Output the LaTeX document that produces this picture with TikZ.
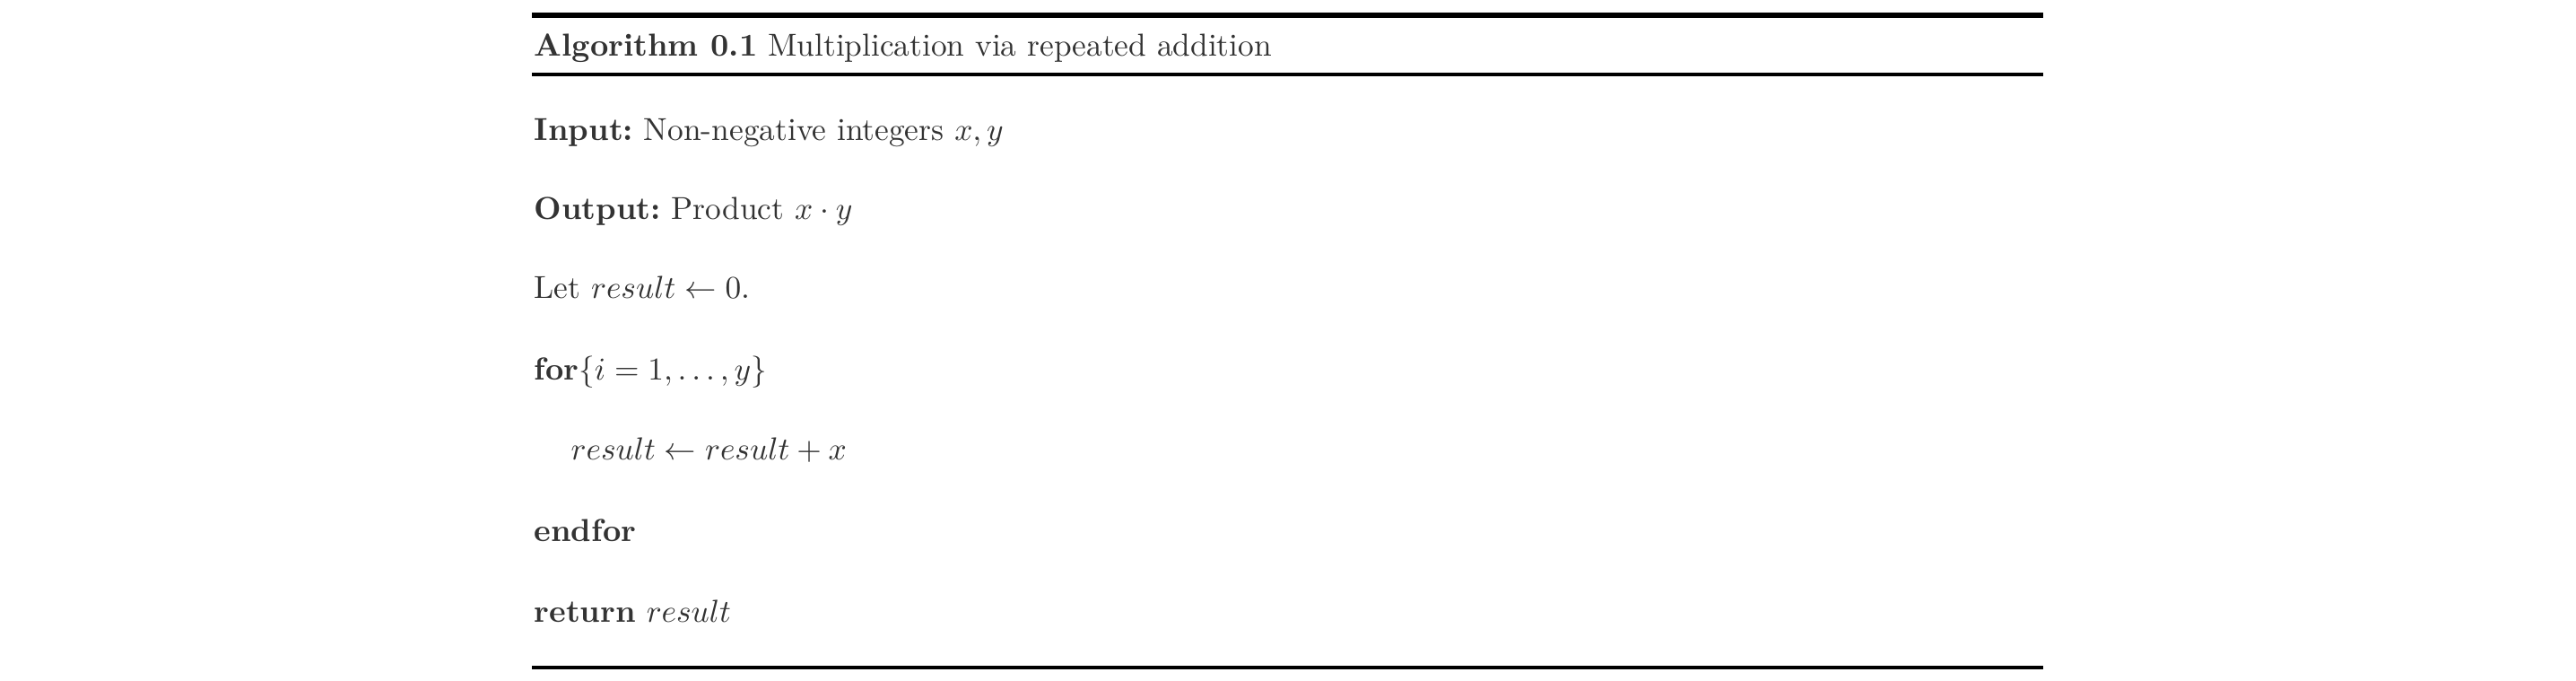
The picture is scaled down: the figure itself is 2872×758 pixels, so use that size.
\documentclass[tikz,border=0pt]{standalone}
\usepackage{amsmath}
\definecolor{textgray}{HTML}{333333}
\frenchspacing
\begin{document}
\begin{tikzpicture}[x=0.2825pt,y=-0.2825pt,
  algline/.style={anchor=base west,inner sep=0pt,text=textgray}]
\useasboundingbox (0,0) rectangle (2872,758);

% rules
\draw[line width=1.7pt] (593,17) -- (2278,17);
\draw[line width=1.13pt] (593,83) -- (2278,83);
\draw[line width=1.13pt] (593,744) -- (2278,744);

\node[algline] (title) at (595,62) {\textbf{Algorithm 0.1} Multiplication via repeated addition};
\node[algline] (input) at (595,156) {\textbf{Input:} Non-negative integers $x, y$};
\node[algline] (output) at (595,244) {\textbf{Output:} Product $x \cdot y$};
\node[algline] (init) at (595,332) {Let $result \leftarrow 0$.};
\node[algline] (loop) at (595,423) {\textbf{for}$\{i = 1, \dots, y\}$};
\node[algline] (body) at (636,512) {$result \leftarrow result + x$};
\node[algline] (endloop) at (595,603) {\textbf{endfor}};
\node[algline] (ret) at (595,693) {\textbf{return} $result$};
\end{tikzpicture}
\end{document}
